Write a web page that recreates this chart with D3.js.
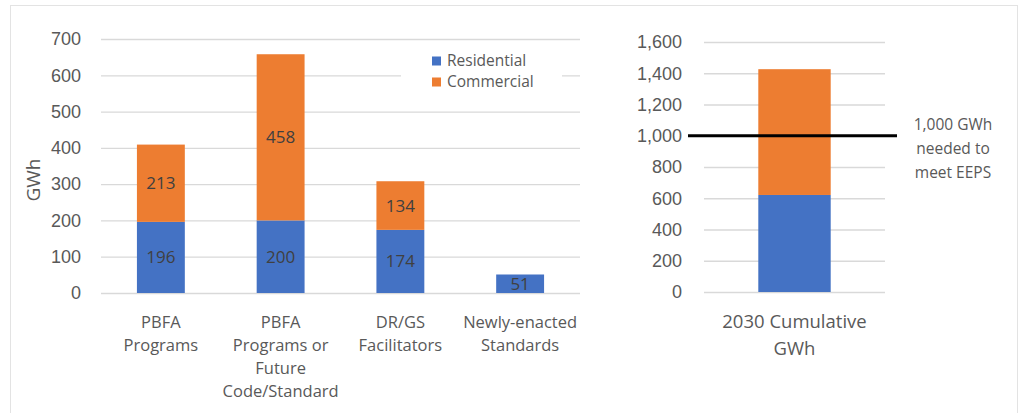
<!DOCTYPE html>
<html>
<head>
<meta charset="utf-8">
<script src="https://cdn.jsdelivr.net/npm/d3@7"></script>
<style>
  html, body { margin: 0; padding: 0; background: #fff; }
  svg { display: block; font-family: "Open Sans", "Noto Sans", sans-serif; }
</style>
</head>
<body>
<svg id="chart" width="1021" height="413"></svg>
<script>
// Savings by source (GWh)
const categories = [
  ["PBFA", "Programs"],
  ["PBFA", "Programs or", "Future", "Code/Standard"],
  ["DR/GS", "Facilitators"],
  ["Newly-enacted", "Standards"]
];
const residential = [196, 200, 174, 51];
const commercial  = [213, 458, 134, null];
const leftTicks = [0, 100, 200, 300, 400, 500, 600, 700];

// Cumulative total for 2030
const cumulativeCategory = ["2030 Cumulative", "GWh"];
const cumulativeResidential = [621];
const cumulativeCommercial = [805];
const rightTicks = [0, 200, 400, 600, 800, 1000, 1200, 1400, 1600];
const targetValue = 1000;
const targetLabel = ["1,000 GWh", "needed to", "meet EEPS"];

const seriesNames = ["Residential", "Commercial"];
const colors = { Residential: "#4472C4", Commercial: "#ED7D31" };
const gridColor = "#D9D9D9";
const textColor = "#595959";
const labelColor = "#404040";

const svg = d3.select("#chart");

// outer frame
svg.append("rect")
  .attr("x", 10.5).attr("y", 5.5)
  .attr("width", 1007).attr("height", 420)
  .attr("fill", "none").attr("stroke", "#E3E3E3");

function stackRows(cats, res, com) {
  return cats.map((c, i) => ({ key: i, Residential: res[i] || 0, Commercial: com[i] || 0 }));
}

function drawPanel(opts) {
  const g = svg.append("g");
  const x = d3.scaleBand().domain(opts.rows.map(d => d.key))
    .range([opts.x0, opts.x1]).paddingInner(opts.pad).paddingOuter(opts.pad / 2);
  const y = d3.scaleLinear().domain([0, opts.max]).range([opts.y0, opts.y1]);

  // gridlines and tick labels
  const axis = d3.axisLeft(y).tickValues(opts.ticks)
    .tickSize(-(opts.x1 - opts.x0)).tickPadding(opts.tickPad)
    .tickFormat(d3.format(","));
  const ag = g.append("g").attr("transform", `translate(${opts.x0},0)`).call(axis);
  ag.select(".domain").remove();
  ag.selectAll(".tick line").attr("stroke", gridColor).attr("stroke-width", 1.3);
  ag.selectAll(".tick text").attr("fill", textColor).attr("font-size", 18);

  const stack = d3.stack().keys(seriesNames)(opts.rows);
  stack.forEach(layer => {
    g.append("g").selectAll("rect").data(layer).join("rect")
      .attr("x", d => x(d.data.key))
      .attr("width", x.bandwidth())
      .attr("y", d => y(d[1]))
      .attr("height", d => y(d[0]) - y(d[1]))
      .attr("fill", colors[layer.key]);
    if (opts.valueLabels) {
      g.append("g").selectAll("text").data(layer.filter(d => d[1] - d[0] > 0)).join("text")
        .attr("x", d => x(d.data.key) + x.bandwidth() / 2)
        .attr("y", d => (y(d[0]) + y(d[1])) / 2)
        .attr("dy", "0.35em")
        .attr("text-anchor", "middle")
        .attr("font-size", 17)
        .attr("fill", labelColor)
        .text(d => d[1] - d[0]);
    }
  });

  // category labels
  opts.rows.forEach((r, i) => {
    const t = g.append("text")
      .attr("x", x(r.key) + x.bandwidth() / 2)
      .attr("y", opts.labelY)
      .attr("text-anchor", "middle")
      .attr("font-size", opts.labelSize)
      .attr("fill", textColor);
    opts.cats[i].forEach((line, j) => {
      t.append("tspan").attr("x", x(r.key) + x.bandwidth() / 2)
        .attr("dy", j === 0 ? "0.35em" : opts.lineH).text(line);
    });
  });
  return { g, x, y };
}

// left panel
const left = drawPanel({
  rows: stackRows(categories, residential, commercial),
  cats: categories,
  x0: 101, x1: 580, y0: 293, y1: 39, max: 700,
  ticks: leftTicks, pad: 0.6, tickPad: 20,
  valueLabels: true, labelY: 322, lineH: 23, labelSize: 16.5
});

// y-axis title
svg.append("text")
  .attr("transform", "translate(33,180) rotate(-90)")
  .attr("text-anchor", "middle").attr("dy", "0.35em")
  .attr("font-size", 19).attr("fill", textColor)
  .text("GWh");

// legend
const legend = svg.append("g").attr("transform", "translate(432,61)");
legend.append("rect").attr("x", -31).attr("y", -12).attr("width", 161).attr("height", 44).attr("fill", "#fff");
seriesNames.forEach((s, i) => {
  const row = legend.append("g").attr("transform", `translate(0,${i * 21})`);
  row.append("rect").attr("x", 0).attr("y", -4.5).attr("width", 9).attr("height", 9).attr("fill", colors[s]);
  row.append("text").attr("x", 15).attr("dy", "0.35em")
    .attr("font-size", 15.5).attr("fill", textColor).text(s);
});

// right panel
const right = drawPanel({
  rows: stackRows([cumulativeCategory], cumulativeResidential, cumulativeCommercial),
  cats: [cumulativeCategory],
  x0: 704, x1: 885, y0: 292, y1: 42, max: 1600,
  ticks: rightTicks, pad: 0.6, tickPad: 22,
  valueLabels: false, labelY: 322, lineH: 27, labelSize: 18.5
});

// target line
right.g.append("line")
  .attr("x1", 688).attr("x2", 897)
  .attr("y1", right.y(targetValue)).attr("y2", right.y(targetValue))
  .attr("stroke", "#000").attr("stroke-width", 3);

const note = svg.append("text")
  .attr("x", 953).attr("y", 125)
  .attr("text-anchor", "middle").attr("font-size", 15.5).attr("fill", textColor);
targetLabel.forEach((line, j) => {
  note.append("tspan").attr("x", 953).attr("dy", j === 0 ? "0.35em" : 24).text(line);
});
</script>
</body>
</html>
